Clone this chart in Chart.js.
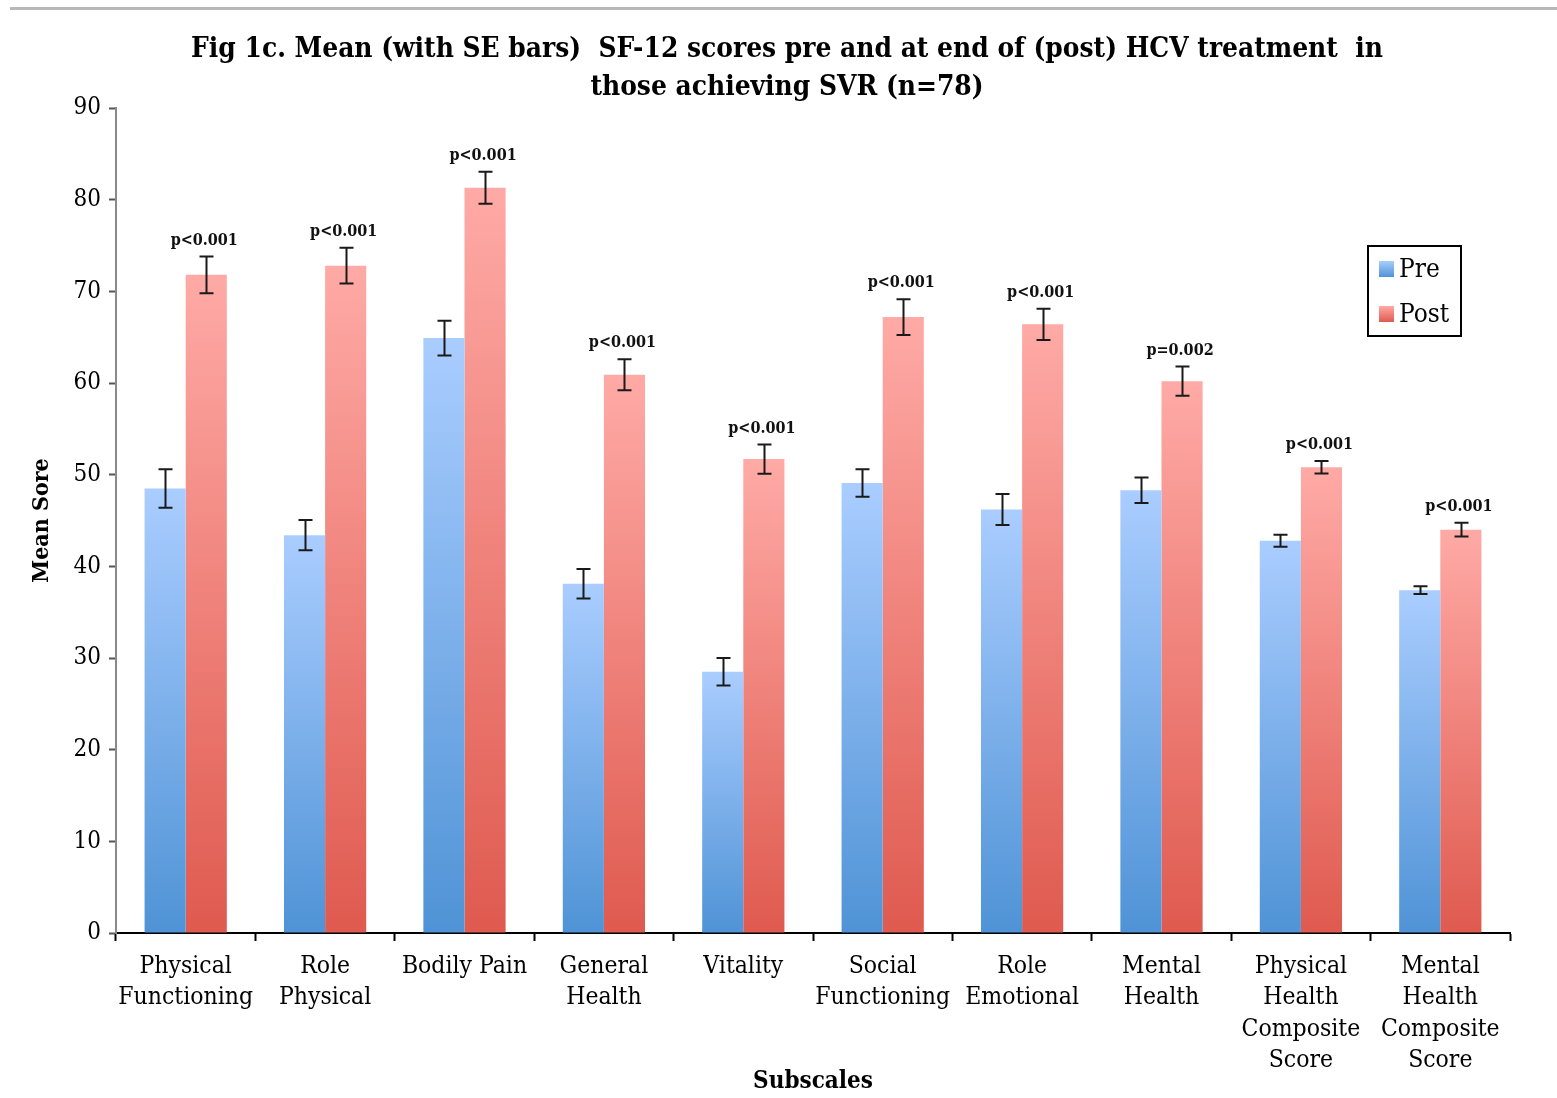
<!DOCTYPE html>
<html>
<head>
<meta charset="utf-8">
<script src="https://cdn.jsdelivr.net/npm/chart.js@4.4.0/dist/chart.umd.min.js"></script>
<style>
    html, body { margin: 0; padding: 0; background: #fff; }
    #wrap { position: relative; width: 1557px; height: 1098px; }
    #rule { position: absolute; left: 10px; right: 0; top: 7px; height: 3px; background: #b8b8b8; }
    canvas { position: absolute; left: 0; top: 0; }
</style>
</head>
<body>
<div id="wrap">
    <div id="rule"></div>
    <canvas id="chart" width="1557" height="1098"></canvas>
</div>
<script>
var categories = [
    ['Physical', 'Functioning'],
    ['Role', 'Physical'],
    ['Bodily Pain'],
    ['General', 'Health'],
    ['Vitality'],
    ['Social', 'Functioning'],
    ['Role', 'Emotional'],
    ['Mental', 'Health'],
    ['Physical', 'Health', 'Composite', 'Score'],
    ['Mental', 'Health', 'Composite', 'Score']
];
var preMean = [48.5, 43.4, 64.9, 38.1, 28.5, 49.1, 46.2, 48.3, 42.8, 37.4];
var postMean = [71.8, 72.8, 81.3, 60.9, 51.7, 67.2, 66.4, 60.2, 50.8, 44.0];
var preSE = [2.1, 1.65, 1.9, 1.6, 1.5, 1.5, 1.7, 1.4, 0.65, 0.42];
var postSE = [2.0, 1.95, 1.75, 1.7, 1.6, 1.95, 1.7, 1.6, 0.68, 0.75];
var pValues = ['p<0.001', 'p<0.001', 'p<0.001', 'p<0.001', 'p<0.001',
               'p<0.001', 'p<0.001', 'p=0.002', 'p<0.001', 'p<0.001'];
var yTicks = [0, 10, 20, 30, 40, 50, 60, 70, 80, 90];
var titleLines = ['Fig 1c. Mean (with SE bars)  SF-12 scores pre and at end of (post) HCV treatment  in',
                  'those achieving SVR (n=78)'];

var serif = '"DejaVu Serif Condensed", "DejaVu Serif", "Liberation Serif", serif';

function barGradient(topColor, bottomColor) {
    return function (context) {
        var chart = context.chart;
        if (!chart.chartArea || context.type !== 'data') return bottomColor;
        var y = chart.scales.y;
        var yTop = y.getPixelForValue(context.parsed.y);
        var yBase = y.getPixelForValue(0);
        var g = chart.ctx.createLinearGradient(0, yTop, 0, yBase);
        g.addColorStop(0, topColor);
        g.addColorStop(1, bottomColor);
        return g;
    };
}

// SE whiskers and p-value labels
var errorBarPlugin = {
    id: 'errorBars',
    afterDatasetsDraw: function (chart) {
        var ctx = chart.ctx;
        var y = chart.scales.y;
        var seLists = [preSE, postSE];
        ctx.save();
        ctx.strokeStyle = '#1a1a1a';
        ctx.lineWidth = 2;
        chart.data.datasets.forEach(function (ds, i) {
            var meta = chart.getDatasetMeta(i);
            meta.data.forEach(function (bar, j) {
                var v = ds.data[j];
                var se = seLists[i][j];
                var hi = y.getPixelForValue(v + se);
                var lo = y.getPixelForValue(v - se);
                var x = Math.round(bar.x) + 0.5;
                ctx.beginPath();
                ctx.moveTo(x, hi); ctx.lineTo(x, lo);
                ctx.moveTo(x - 7, hi); ctx.lineTo(x + 7, hi);
                ctx.moveTo(x - 7, lo); ctx.lineTo(x + 7, lo);
                ctx.stroke();
                if (i === 1) {
                    ctx.fillStyle = '#111';
                    ctx.font = 'bold 16px ' + serif;
                    ctx.textAlign = 'center';
                    ctx.textBaseline = 'middle';
                    ctx.fillText(pValues[j], bar.x - 2, hi - 16);
                }
            });
        });
        ctx.restore();
    }
};

// boxed legend inside the plot and the two-line heading
var decorPlugin = {
    id: 'decor',
    afterDraw: function (chart) {
        var ctx = chart.ctx;
        ctx.save();
        ctx.fillStyle = '#000';
        ctx.font = 'bold 27.8px ' + serif;
        ctx.textAlign = 'center';
        ctx.textBaseline = 'middle';
        ctx.fillText(titleLines[0], 787, 50);
        ctx.fillText(titleLines[1], 787, 88);

        ctx.strokeStyle = '#000';
        ctx.lineWidth = 2;
        ctx.strokeRect(1368, 246, 93, 90);
        var swatches = [['#a9cdfd', '#4f93d6'], ['#ffaaa6', '#df5a4f']];
        chart.data.datasets.forEach(function (ds, i) {
            var top = 261 + i * 45;
            var g = ctx.createLinearGradient(0, top, 0, top + 16);
            g.addColorStop(0, swatches[i][0]);
            g.addColorStop(1, swatches[i][1]);
            ctx.fillStyle = g;
            ctx.fillRect(1379, top, 15, 16);
            ctx.fillStyle = '#000';
            ctx.font = '26px ' + serif;
            ctx.textAlign = 'left';
            ctx.fillText(ds.label, 1399, top + 9);
        });
        ctx.restore();
    }
};

var ctx = document.getElementById('chart').getContext('2d');
new Chart(ctx, {
    type: 'bar',
    data: {
        labels: categories,
        datasets: [{
            label: 'Pre',
            data: preMean,
            backgroundColor: barGradient('#aacdff', '#4f93d6')
        }, {
            label: 'Post',
            data: postMean,
            backgroundColor: barGradient('#ffaaa6', '#df5a4f')
        }]
    },
    options: {
        responsive: false,
        animation: false,
        layout: { padding: { left: 28, right: 47, top: 108, bottom: 0 } },
        datasets: {
            bar: { categoryPercentage: 0.59, barPercentage: 1.0 }
        },
        plugins: {
            legend: { display: false },
            tooltip: { enabled: false },
            title: { display: false }
        },
        scales: {
            x: {
                grid: {
                    display: true, drawOnChartArea: false, drawTicks: true,
                    tickLength: 8, tickColor: '#000', tickWidth: 2, offset: true
                },
                border: { color: '#000', width: 2 },
                ticks: {
                    color: '#000', maxRotation: 0, autoSkip: false, padding: 10,
                    font: { family: serif, size: 24.5, lineHeight: 1.28 }
                },
                title: {
                    display: true, text: 'Subscales', color: '#000',
                    font: { family: serif, size: 24, weight: 'bold' },
                    padding: { top: 0, bottom: 2 }
                },
                afterFit: function (scale) { scale.height = 165; }
            },
            y: {
                min: 0,
                max: 90,
                afterBuildTicks: function (scale) {
                    scale.ticks = yTicks.map(function (v) { return { value: v }; });
                },
                grid: {
                    display: true, drawOnChartArea: false, drawTicks: true,
                    tickLength: 7, tickColor: '#555', tickWidth: 2
                },
                border: { color: '#8a8a8a', width: 2 },
                ticks: {
                    color: '#000', padding: 8,
                    font: { family: serif, size: 24 }
                },
                title: {
                    display: true, text: 'Mean Sore', color: '#000',
                    font: { family: serif, size: 23, weight: 'bold' },
                    padding: { top: 0, bottom: 8 }
                },
                afterFit: function (scale) { scale.width = 88; }
            }
        }
    },
    plugins: [errorBarPlugin, decorPlugin]
});
</script>
</body>
</html>
